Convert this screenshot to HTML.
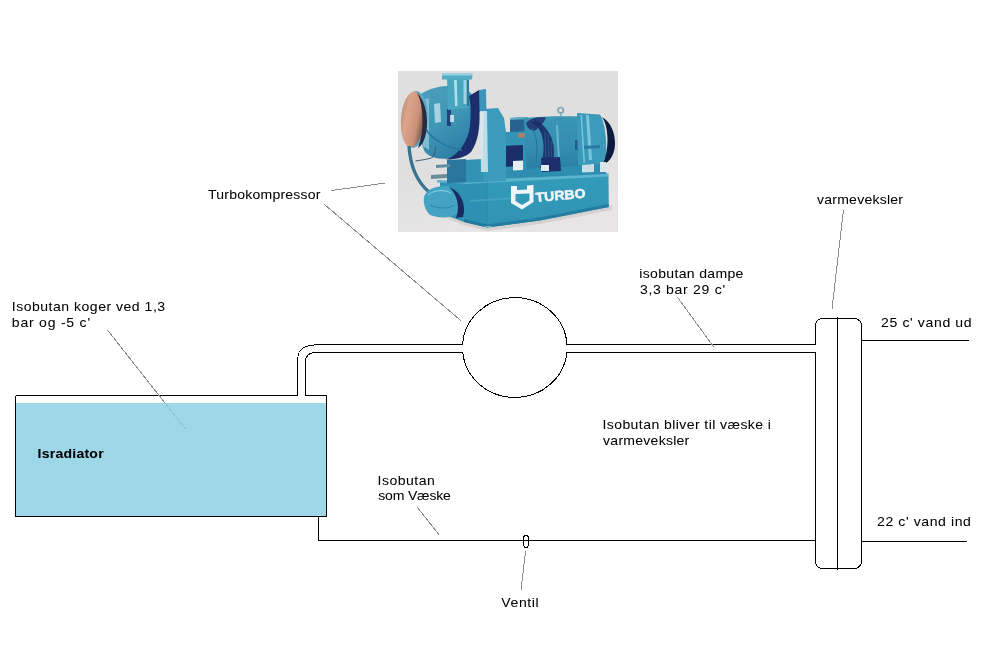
<!DOCTYPE html>
<html><head><meta charset="utf-8">
<style>
html,body{margin:0;padding:0;background:#fff;width:994px;height:648px;overflow:hidden}
svg{display:block}
text{font-family:"Liberation Sans",sans-serif;font-size:13px;fill:#000}
</style></head><body>
<svg width="994" height="648" viewBox="0 0 994 648">
<rect x="0" y="0" width="994" height="648" fill="#fff"/>
<!-- PHOTO -->
<g id="photo">
<defs>
<clipPath id="pc"><rect x="398" y="71" width="220" height="161"/></clipPath>
<filter id="pb" x="0" y="0" width="1" height="1"><feGaussianBlur stdDeviation="0.5"/></filter>
<linearGradient id="bg" x1="0" y1="0" x2="0.3" y2="1"><stop offset="0" stop-color="#dfdfdf"/><stop offset="0.6" stop-color="#e0dfdf"/><stop offset="1" stop-color="#e7e5e5"/></linearGradient>
<linearGradient id="cu" x1="0" y1="0" x2="1" y2="0.3"><stop offset="0" stop-color="#b58c6e"/><stop offset="0.35" stop-color="#dca48c"/><stop offset="0.8" stop-color="#cc9078"/><stop offset="1" stop-color="#8a6a58"/></linearGradient>
<linearGradient id="base" x1="0" y1="0" x2="0" y2="1"><stop offset="0" stop-color="#349bba"/><stop offset="1" stop-color="#2f93b4"/></linearGradient>
<linearGradient id="mot" x1="0" y1="0" x2="0" y2="1"><stop offset="0" stop-color="#3b96b4"/><stop offset="0.6" stop-color="#338daf"/><stop offset="1" stop-color="#2a80a4"/></linearGradient>
<linearGradient id="vol" x1="0" y1="0" x2="0.6" y2="1"><stop offset="0" stop-color="#4aa0bb"/><stop offset="0.55" stop-color="#3f96b5"/><stop offset="1" stop-color="#2b7ea6"/></linearGradient>
</defs>
<rect x="398" y="71" width="220" height="161" fill="url(#bg)"/>
<g clip-path="url(#pc)" filter="url(#pb)">
<!-- ground shadow -->
<path d="M430 212 L462 224.5 L487 231 L540 224 L612 210 L612 205 L540 219 L487 226 L462 220 Z" fill="#d6d1d1"/>
<!-- base side (left, recessed) -->
<path d="M440 181 L487 181 L487 227.5 L464 222 L440 213 Z" fill="#2f90b2"/>
<!-- base front face -->
<path d="M486 180 L608.5 173.5 L608.8 207 L540 220.5 L487 227.5 Z" fill="url(#base)"/>
<path d="M464 181 L608 173.5 L608 176.5 L464 184 Z" fill="#5cb5cf"/>
<path d="M437 180 L464 181 L464 183.5 L437 182.5 Z" fill="#5cb5cf"/>
<path d="M486 181 L487.5 181 L487.5 227 L486 227 Z" fill="#2a82a6" opacity="0.6"/>
<path d="M464 219 L487 224.5 L487 227.5 L464 222 Z" fill="#23779c"/>
<path d="M487 224.5 L540 217.5 L608.8 204 L608.8 207 L540 220.5 L487 227.5 Z" fill="#257ca0"/>
<path d="M484 226 L492 226 L490 227.6 L486 227.6 Z" fill="#8fd0e0" opacity="0.7"/>
<path d="M470 200 L530 196 L530 198 L470 202 Z" fill="#58afc9" opacity="0.5"/>
<!-- under-motor / feet strip -->
<path d="M500 163 L606 160 L606 174 L500 179 Z" fill="#2e8eb0"/>
<!-- motor terminal box -->
<path d="M510 118 L528 117 L528 133 L510 134 Z" fill="#26648f"/>
<path d="M510 118 L528 117 L528 119 L510 120 Z" fill="#5eacc6"/>
<!-- coupling guard -->
<path d="M504 132 L540 131 L541 168 L504 170 Z" fill="#3494b6"/>
<path d="M518 133 L528 133 L528 137.5 L518 137.5 Z" fill="#c47e62" opacity="0.85"/>
<path d="M525 143.5 L539 143.5 L539 146 L525 146 Z" fill="#1b2d62"/>
<!-- motor body -->
<path d="M524 118 C540 116.5 560 116 578 116.5 L580 166 L526 169 Z" fill="url(#mot)"/>
<path d="M556 125 L558 125 L560 160 L558 160 Z" fill="#7cc6da" opacity="0.7"/>
<path d="M575 140 L584 140 L584 150 L575 150 Z" fill="#1f4f86" opacity="0.8"/>
<!-- motor fan ring (dark) -->
<path d="M526 123 C530 118 538 116.5 546 117.5 C544 122 540 128 534 131 C530 130 527 128 526 123 Z" fill="#1f3470" opacity="0.9"/>
<path d="M535 120 C547 125 554 138 554 152 C554 158 553 163 551 168 L540 168 C543.5 158 544.5 148 542.5 138 C541 131 538 126 532 123 Z" fill="#1c2e68" opacity="0.92"/>
<path d="M545 132 L546 162 M548 134 L549 162 M551 141 L551.5 161" stroke="#3b7fa8" stroke-width="0.8" opacity="0.6"/>
<path d="M532 128 C536 134 538 146 536 162" fill="none" stroke="#2a6f9a" stroke-width="1.2" opacity="0.8"/>
<!-- motor right end bell -->
<path d="M577 113 L600 114.5 C605 122 607 140 606 158 L601 164 L578 165 Z" fill="#3b9ab9"/>
<path d="M580.5 115 L582 115 L585 163 L583.5 163 Z" fill="#8ad0e2" opacity="0.8"/>
<path d="M586 115 L589 115 L592 160 L589 160 Z" fill="#8ad0e2" opacity="0.8"/>
<path d="M584 146 L600 145 L600 148 L584 149 Z" fill="#2a7aa6"/>
<path d="M602 117 C611 122 615 133 615 143 C615 153 611 161 603 165 C606 157 607.5 148 607.5 140 C607.5 131 606 123 602 117 Z" fill="#101a3c"/>
<!-- eye bolt -->
<path d="M560.2 112.5 L560.2 117 L561.4 117 L561.4 112.5 Z" fill="#5f9fb5"/>
<circle cx="560.7" cy="110.2" r="2.7" fill="none" stroke="#7fa9b6" stroke-width="1.7"/>
<!-- under-motor details -->
<path d="M541 158 L560 157 L561 171 L542 172 Z" fill="#1c2f6c"/>
<path d="M503 146 L523 145 L523 166 L503 167 Z" fill="#1d2e6a"/>
<path d="M513 161 L523 160.5 L523 170 L513 170.5 Z" fill="#e6eef2"/>
<path d="M541 165 L549 165 L549 171 L541 171 Z" fill="#dfe9ee"/>
<path d="M582 165 L594 164 L594 172 L582 172.5 Z" fill="#c9dde6"/>
<path d="M600 162 L606 162 L606 172 L600 172 Z" fill="#d8e6ec"/>
<!-- pedestal / bearing bracket -->
<path d="M484 109 L498 108 L504 118 L506 132 L506 181 L482 182 Z" fill="#3a9cbc"/>
<!-- lower middle structure between volute and base -->
<path d="M447 161 L482 159 L484 182 L447 183 Z" fill="#3293b4"/>
<path d="M447 160 L466 159 L466 182 L447 183 Z" fill="#2b759c"/>
<path d="M436 165 L450 164 L450 167 L436 168 Z" fill="#5c8ea4"/>
<path d="M431 175 L447 174 L447 178 L431 179 Z" fill="#6a8d9e"/>
<!-- bearing housing dark band + white strip -->
<path d="M479 90 L486 89 L486.5 112 L479 112 Z" fill="#3d93b9"/>
<path d="M480 111 L487 111 L488 172 L481 172 Z" fill="#d6e9f0" opacity="0.85"/>
<!-- volute main -->
<path d="M421 94 C430 88 442 85 458 86 C472 89 478 100 478 118 C478 140 472 152 460 157 C446 160 432 160 425 152 C419 142 418 110 421 94 Z" fill="url(#vol)"/>
<path d="M469 96 L479 90 L479.5 112 C480 128 478 142 471 152 C466 157 457 159.5 446 159.5 C456 156 465 146 469 132 C471.5 118 471 104 469 96 Z" fill="#1b2f6c"/>
<path d="M422 100 L429 98 L429 150 L423 146 Z" fill="#8cc8dc" opacity="0.8"/>
<path d="M434 104 L440 103 L441 122 L435 123 Z" fill="#c8e7f0" opacity="0.75"/>
<path d="M447 109 L451 109 L451 126 L447 126 Z" fill="#1c3170" opacity="0.85"/>
<path d="M450 115 L454 115 L454 122 L450 122 Z" fill="#e0eef3" opacity="0.8"/>
<path d="M425 128 C432 140 448 148 462 150" fill="none" stroke="#2a75a0" stroke-width="1.5"/>
<!-- outlet pipe -->
<path d="M447 78 L469 78 L469 108 L448 110 Z" fill="#46a6bd"/>
<path d="M454 80 L456.8 80 L457.5 106 L455 106 Z" fill="#b8e6ee" opacity="0.9"/>
<path d="M463.5 80 L466.5 80 L466.5 104 L463.5 104 Z" fill="#a9dde8" opacity="0.85"/>
<path d="M467 80 L469 80 L469 106 L467 106 Z" fill="#2a7598" opacity="0.9"/>
<path d="M442 73.5 L472.5 73.5 L472 79.5 L442 79.5 Z" fill="#52abc8"/>
<path d="M442 73.5 L472.5 73.5 L472.5 75.5 L442 75.5 Z" fill="#9ad3e4"/>
<!-- copper disc -->
<ellipse cx="414.5" cy="119.5" rx="13" ry="28.5" transform="rotate(4 414.5 119.5)" fill="#5aa5c5"/>
<ellipse cx="412.5" cy="119.5" rx="11.5" ry="28" transform="rotate(4 412.5 119.5)" fill="url(#cu)"/>
<path d="M417 93 C424 99 427 112 427 122 C427 134 424 144 418 148 C421 140 422.5 130 422.5 120 C422.5 110 421 100 417 93 Z" fill="#2b2b3f"/>
<!-- pipe down from disc -->
<path d="M409 146 C410 162 415 180 429 192" fill="none" stroke="#3a7391" stroke-width="3.4"/>
<path d="M415.5 161 C422 160 430 159 433 157 C435 153 435.5 150 435.5 147" fill="none" stroke="#405c6c" stroke-width="1"/>
<!-- lower left pump unit -->
<path d="M424 197 C426 189 436 185.5 448 186 C458 189 462 202 459 212 C454 218 440 219 430 215 C425 210 423 203 424 197 Z" fill="#42a4c2"/>
<path d="M449 187 C458 190 465 200 464 212 L463 217 L456 218 C460 208 458 195 449 187 Z" fill="#1c2c64"/>
<path d="M428 195 C434 190 444 189 451 193" fill="none" stroke="#8fd2e4" stroke-width="1"/>
<path d="M430 205 C438 209 448 209 455 205" fill="none" stroke="#2d84ab" stroke-width="1"/>
<!-- TURBO logo -->
<path d="M511 186 L517 186 L517 190 L527 189.5 L527 185.5 L533.5 185 L533.5 202 L522 209.5 L511 203 Z" fill="#f0f6f8"/>
<path d="M515.5 194 L529.5 193.5 L529.5 200.5 L522 205 L515.5 201 Z" fill="#3299b9"/>
<text x="536" y="202" font-family="Liberation Sans" font-weight="bold" font-size="16" style="fill:#f0f6f8;stroke:#f0f6f8;stroke-width:0.5" textLength="50" lengthAdjust="spacingAndGlyphs" transform="rotate(-5 536 202)">TURBO</text>
</g>
</g>
<!-- tank -->
<rect x="16" y="403" width="310" height="113" fill="#9dd7e8"/>
<g fill="none" stroke="#000" stroke-width="1" shape-rendering="crispEdges">
<path d="M15.5 395.5H297.5M305.5 395.5H326.5V516.5H15.5V395.5"/>
<path d="M318.5 516.5V540.5H815.5"/>
<path d="M567 344.5H815.5M567 352.5H815.5"/>
<path d="M297.5 395.5V360"/>
<path d="M305.5 395.5V361"/>
<path d="M317 344.5H462.5M317 352.5H462.5"/>
<path d="M861.5 340.5H968.5M861.5 541.5H966.5"/>
<path d="M837.5 317V569.5"/>
</g>
<g fill="none" stroke="#000" stroke-width="1" shape-rendering="crispEdges">
<path d="M297.5 360 C298 351 301 347.5 307 346.2 C311 345.3 314 344.8 318 344.5"/>
<path d="M305.5 361 C305.5 356 308 352.5 317 352.5"/>
<path d="M462.6 344.5 A52.3 50 0 0 1 567 344.5"/>
<path d="M462.76 352.5 A52.3 50 0 0 0 566.84 352.5"/>
<path d="M815.5 344.5V325.5A7 7 0 0 1 822.5 318.5H854.5A7 7 0 0 1 861.5 325.5V561.5A7 7 0 0 1 854.5 568.5H822.5A7 7 0 0 1 815.5 561.5V352.5"/>
<ellipse cx="526" cy="541.3" rx="2.8" ry="6.3"/>
</g>

<!-- leader lines -->
<g stroke="#8c8c8c" stroke-width="1" fill="none" shape-rendering="crispEdges">
<path d="M331 190.6L385.5 183"/>
<path d="M323.7 203.8L461.2 320.9"/>
<path d="M107.6 330.2L165 403"/>
<path d="M165 403L185.7 429.3" stroke="#8bc4d6"/>
<path d="M677.3 297L713.5 346.7"/>
<path d="M843.5 209.6L832 309"/>
<path d="M417.2 507.2L438.8 534.4"/>
<path d="M525.6 551L521 590"/>
</g>
<!-- text -->
<filter id="gs" x="0" y="0" width="1" height="1"><feColorMatrix type="saturate" values="0"/><feComponentTransfer><feFuncA type="gamma" amplitude="1" exponent="0.9" offset="0"/></feComponentTransfer></filter>
<g filter="url(#gs)">
<text transform="translate(208.0 199) scale(1.08 1)" x="0" y="0" textLength="104.17" lengthAdjust="spacing">Turbokompressor</text>
<text transform="translate(817.0 204) scale(1.08 1)" x="0" y="0" textLength="79.63" lengthAdjust="spacing">varmeveksler</text>
<text transform="translate(639.3 278) scale(1.08 1)" x="0" y="0" textLength="96.39" lengthAdjust="spacing">isobutan dampe</text>
<text transform="translate(639.9 294) scale(1.08 1)" x="0" y="0" textLength="78.89" lengthAdjust="spacing">3,3 bar 29 c'</text>
<text transform="translate(11.8 311) scale(1.08 1)" x="0" y="0" textLength="141.94" lengthAdjust="spacing">Isobutan koger ved 1,3</text>
<text transform="translate(11.8 326.5) scale(1.08 1)" x="0" y="0" textLength="72.50" lengthAdjust="spacing">bar og -5 c'</text>
<text transform="translate(881.0 327) scale(1.08 1)" x="0" y="0" textLength="83.89" lengthAdjust="spacing">25 c' vand ud</text>
<text transform="translate(37.6 457.6) scale(1.08 1)" x="0" y="0" textLength="61.11" lengthAdjust="spacing" font-weight="bold">Isradiator</text>
<text transform="translate(602.4 429) scale(1.08 1)" x="0" y="0" textLength="156.11" lengthAdjust="spacing">Isobutan bliver til væske i</text>
<text transform="translate(603.1 445) scale(1.08 1)" x="0" y="0" textLength="79.81" lengthAdjust="spacing">varmeveksler</text>
<text transform="translate(377.6 484.7) scale(1.08 1)" x="0" y="0" textLength="52.96" lengthAdjust="spacing">Isobutan</text>
<text transform="translate(378.2 500.3) scale(1.08 1)" x="0" y="0" textLength="67.31" lengthAdjust="spacing">som Væske</text>
<text transform="translate(877.1 526) scale(1.08 1)" x="0" y="0" textLength="86.85" lengthAdjust="spacing">22 c' vand ind</text>
<text transform="translate(501.3 607) scale(1.08 1)" x="0" y="0" textLength="34.63" lengthAdjust="spacing">Ventil</text>
</g>
</svg>
</body></html>
